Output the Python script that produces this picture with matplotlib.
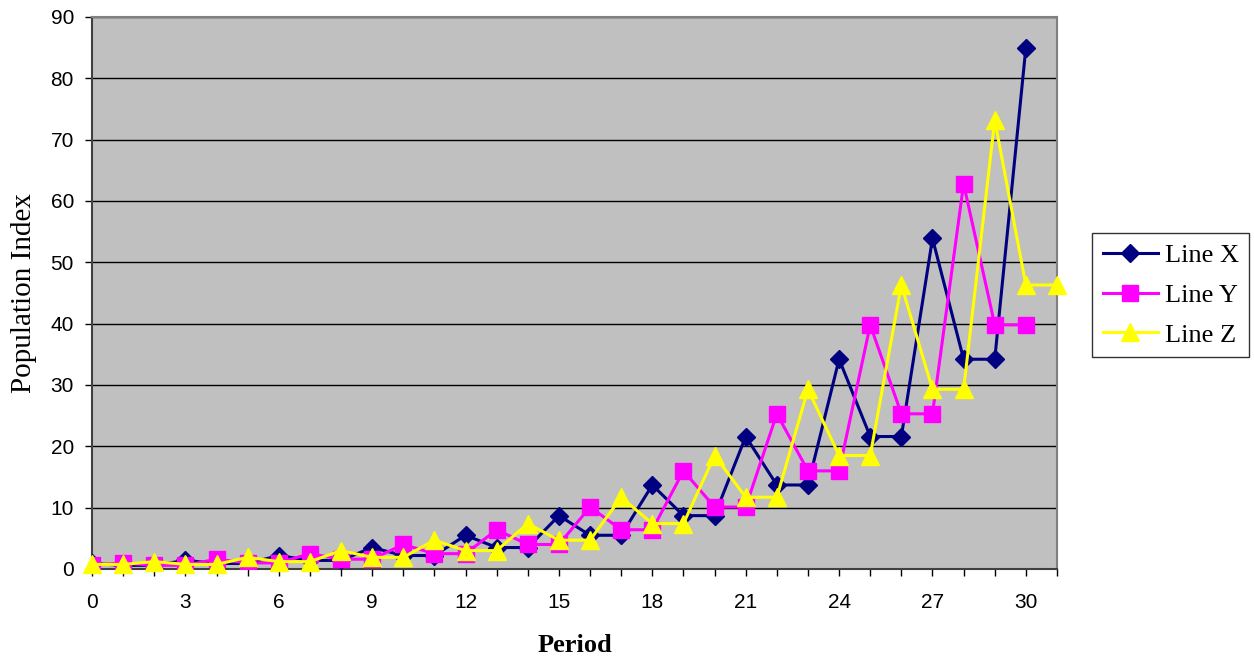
import numpy as np
import matplotlib
matplotlib.use("Agg")
import matplotlib.pyplot as plt

# DATA
periods_x = list(range(0, 31))
periods_y = list(range(0, 31))
periods_z = list(range(0, 32))

line_x = [0.9, 0.6, 0.6, 1.4, 0.9, 0.9, 2.2, 1.4, 1.4, 3.5, 2.2, 2.2, 5.5, 3.5, 3.5,
          8.7, 5.5, 5.5, 13.7, 8.7, 8.7, 21.6, 13.7, 13.7, 34.2, 21.6, 21.6,
          53.9, 34.2, 34.2, 85.0]
line_y = [0.6, 1.0, 0.6, 0.6, 1.6, 1.0, 1.0, 2.5, 1.6, 1.6, 4.0, 2.5, 2.5, 6.4, 4.0,
          4.0, 10.1, 6.4, 6.4, 16.0, 10.1, 10.1, 25.3, 16.0, 16.0, 39.8, 25.3,
          25.3, 62.8, 39.8, 39.8]
line_z = [0.75, 0.75, 1.2, 0.75, 0.75, 1.9, 1.2, 1.2, 3.0, 1.9, 1.9, 4.7, 3.0, 3.0,
          7.4, 4.7, 4.7, 11.7, 7.4, 7.4, 18.5, 11.7, 11.7, 29.3, 18.5, 18.5,
          46.3, 29.3, 29.3, 73.2, 46.3, 46.3]

x_ticklabels = list(range(0, 31, 3))
y_ticks = list(range(0, 91, 10))

SERIF = ["Liberation Serif", "DejaVu Serif"]
SANS = ["Liberation Sans", "DejaVu Sans"]

fig = plt.figure(figsize=(12.54, 6.56), dpi=100)
ax = fig.add_axes([92 / 1254, 87 / 656, 965 / 1254, 552 / 656])
ax.set_facecolor("#C0C0C0")

ax.plot(periods_x, line_x, color="#000080", lw=2.2, marker="D", ms=9.5,
        label="Line X", zorder=3)
ax.plot(periods_y, line_y, color="#FF00FF", lw=2.2, marker="s", ms=11,
        label="Line Y", zorder=4)
ax.plot(periods_z, line_z, color="#FFFF00", lw=2.2, marker="^", ms=13,
        label="Line Z", zorder=5, clip_on=False)

ax.set_xlim(0, 31)
ax.set_ylim(0, 90)
ax.set_xticks(range(0, 32))
ax.set_xticklabels([str(i) if i in x_ticklabels else "" for i in range(0, 32)])
ax.set_yticks(y_ticks)

ax.yaxis.grid(True, color="black", lw=1)
ax.set_axisbelow(True)

for side in ["top", "right"]:
    ax.spines[side].set_color("#808080")
    ax.spines[side].set_linewidth(1.5)
for side in ["left", "bottom"]:
    ax.spines[side].set_color("#404040")
    ax.spines[side].set_linewidth(1.5)

ax.tick_params(axis="both", direction="out", length=5, width=1, color="black",
               labelsize=15)
ax.tick_params(axis="y", pad=8)
ax.tick_params(axis="x", pad=12)
for lbl in ax.get_xticklabels() + ax.get_yticklabels():
    lbl.set_family(SANS)

ax.set_ylabel("Population Index", family=SERIF, fontsize=21, labelpad=10)
ax.set_xlabel("Period", family=SERIF, fontsize=19, fontweight="bold", labelpad=16)

leg = fig.legend(loc="upper left", bbox_to_anchor=(1092 / 1254, 1 - 233 / 656),
                 bbox_transform=fig.transFigure, frameon=True, fancybox=False,
                 prop={"family": SERIF, "size": 19}, handlelength=2.1,
                 handletextpad=0.25, labelspacing=0.62, borderpad=0.4,
                 borderaxespad=0)
leg.get_frame().set_edgecolor("black")
leg.get_frame().set_linewidth(1)

fig.savefig("out.png", dpi=100)
